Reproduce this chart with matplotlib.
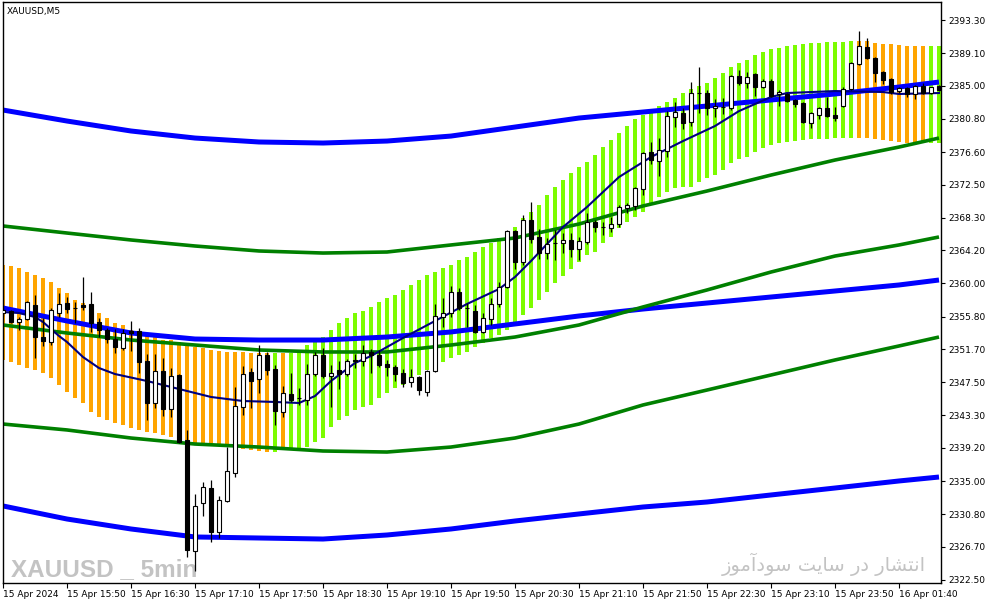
import numpy as np
import matplotlib.pyplot as plt

# XAUUSD M5 candles, bar 0 .. 117
opens = [2356.26, 2356.51, 2355.12, 2355.50, 2357.27, 2353.22, 2352.59, 2356.26, 2357.52, 2356.89,
         2357.27, 2357.40, 2355.12, 2354.11, 2352.97, 2351.83, 2353.98, 2353.98, 2350.19, 2344.88,
         2348.92, 2344.12, 2348.42, 2340.20, 2326.17, 2332.24, 2334.13, 2328.57, 2332.49, 2336.03,
         2344.37, 2348.80, 2347.91, 2350.95, 2349.18, 2343.74, 2346.02, 2345.51, 2345.26, 2348.54,
         2350.95, 2348.29, 2349.05, 2348.54, 2350.32, 2350.19, 2351.33, 2350.95, 2349.81, 2349.43,
         2348.67, 2347.53, 2348.16, 2346.27, 2348.92, 2355.75, 2356.26, 2358.91, 2356.89, 2356.51,
         2353.86, 2355.50, 2357.40, 2359.54, 2366.62, 2362.71, 2368.02, 2365.87, 2363.84, 2365.11,
         2365.11, 2365.49, 2364.35, 2365.23, 2367.76, 2367.13, 2367.00, 2367.51, 2369.53, 2369.78,
         2371.93, 2376.61, 2375.47, 2376.74, 2381.04, 2381.54, 2380.41, 2384.07, 2384.07, 2382.17,
         2382.30, 2382.17, 2386.22, 2385.34, 2386.48, 2384.83, 2385.59, 2383.95, 2383.95, 2383.19,
         2382.81, 2380.28, 2381.29, 2382.17, 2381.29, 2382.43, 2384.58, 2387.74, 2389.89, 2388.50,
         2386.73, 2385.84, 2384.32, 2384.70, 2383.95, 2384.96, 2384.07, 2384.96]
highs = [2356.89, 2356.64, 2355.75, 2357.77, 2358.53, 2355.63, 2356.89, 2358.79, 2358.28, 2357.65,
         2360.81, 2358.91, 2355.63, 2354.36, 2354.23, 2354.23, 2355.25, 2354.36, 2351.07, 2351.07,
         2350.57, 2349.30, 2348.54, 2341.47, 2333.37, 2334.89, 2335.14, 2333.12, 2339.32, 2346.90,
         2349.56, 2349.30, 2352.21, 2351.33, 2349.68, 2347.03, 2348.67, 2346.77, 2349.81, 2351.33,
         2351.83, 2349.68, 2350.19, 2350.44, 2351.07, 2352.21, 2351.70, 2351.58, 2350.32, 2349.68,
         2349.18, 2349.18, 2348.29, 2349.05, 2357.40, 2358.15, 2359.67, 2359.42, 2357.52, 2357.27,
         2356.26, 2358.15, 2360.18, 2366.75, 2366.75, 2368.65, 2370.29, 2366.88, 2365.74, 2366.75,
         2366.37, 2366.37, 2365.87, 2368.90, 2368.02, 2367.76, 2368.39, 2369.91, 2370.16, 2372.19,
         2376.61, 2377.88, 2378.38, 2381.79, 2382.93, 2382.17, 2385.46, 2387.36, 2384.45, 2383.31,
         2383.44, 2386.35, 2386.98, 2386.73, 2386.60, 2385.84, 2385.84, 2384.45, 2384.07, 2383.31,
         2382.93, 2381.67, 2382.30, 2383.57, 2382.30, 2384.83, 2387.99, 2391.91, 2391.03, 2388.62,
         2386.85, 2385.97, 2384.83, 2384.83, 2385.08, 2385.34, 2384.83, 2385.08]
lows = [2355.88, 2354.99, 2354.11, 2355.37, 2350.57, 2352.09, 2352.21, 2355.75, 2356.26, 2354.99,
        2356.64, 2353.86, 2353.22, 2352.46, 2351.20, 2351.58, 2351.45, 2348.67, 2342.73, 2344.25,
        2343.24, 2343.11, 2339.82, 2325.41, 2323.64, 2330.59, 2327.30, 2327.81, 2332.36, 2335.52,
        2343.36, 2344.25, 2346.14, 2348.42, 2342.10, 2343.11, 2345.01, 2344.63, 2344.63, 2348.29,
        2348.04, 2344.37, 2346.65, 2348.29, 2349.30, 2349.56, 2348.67, 2349.43, 2348.29, 2347.66,
        2346.90, 2346.90, 2345.89, 2345.76, 2348.80, 2354.49, 2355.75, 2356.64, 2354.49, 2353.73,
        2353.73, 2354.74, 2357.02, 2359.42, 2361.82, 2362.33, 2365.11, 2363.08, 2363.08, 2362.96,
        2363.84, 2363.34, 2362.96, 2364.98, 2366.50, 2366.12, 2366.50, 2367.13, 2368.90, 2369.28,
        2371.18, 2375.09, 2373.58, 2375.98, 2379.77, 2379.52, 2379.90, 2381.54, 2381.29, 2381.04,
        2381.42, 2381.92, 2385.08, 2384.70, 2383.69, 2384.70, 2383.57, 2382.43, 2382.93, 2382.30,
        2380.28, 2379.65, 2380.79, 2381.04, 2380.53, 2382.30, 2384.45, 2387.61, 2388.37, 2385.46,
        2385.21, 2383.95, 2384.07, 2383.57, 2383.31, 2383.95, 2383.95, 2384.32]
closes = [2356.64, 2355.12, 2355.50, 2357.65, 2353.22, 2352.72, 2356.64, 2357.40, 2356.76, 2356.85,
          2357.02, 2354.99, 2354.11, 2352.97, 2351.96, 2353.73, 2353.73, 2350.06, 2344.88, 2348.92,
          2344.12, 2348.29, 2339.95, 2326.29, 2331.86, 2334.26, 2328.57, 2332.62, 2336.28, 2344.50,
          2348.54, 2347.66, 2350.95, 2349.05, 2343.87, 2346.14, 2345.26, 2345.55, 2348.54, 2350.95,
          2348.29, 2348.67, 2348.54, 2350.19, 2350.19, 2351.20, 2350.95, 2349.68, 2349.43, 2348.54,
          2347.41, 2348.16, 2346.52, 2348.92, 2355.88, 2356.26, 2358.91, 2356.89, 2356.85, 2353.86,
          2355.63, 2357.40, 2359.54, 2366.62, 2362.71, 2368.02, 2365.61, 2363.84, 2364.98, 2365.07,
          2365.49, 2364.35, 2365.36, 2367.76, 2367.13, 2367.10, 2367.51, 2369.66, 2369.91, 2372.06,
          2376.49, 2375.60, 2376.87, 2381.16, 2381.67, 2380.28, 2384.07, 2384.03, 2382.17, 2382.43,
          2382.26, 2386.22, 2385.34, 2386.10, 2384.83, 2385.59, 2383.69, 2384.20, 2383.06, 2382.68,
          2380.41, 2381.54, 2382.17, 2381.16, 2380.91, 2384.58, 2387.86, 2390.01, 2388.50, 2386.60,
          2385.72, 2384.20, 2384.70, 2383.95, 2384.96, 2384.07, 2384.83, 2384.45]

# trend band (histogram stripes): upper / lower edge per bar, direction +1 up / -1 down
band_top = [2362.33, 2362.20, 2361.95, 2361.44, 2361.06, 2360.68, 2360.18, 2359.42, 2358.79, 2357.90,
            2357.52, 2357.02, 2356.26, 2355.63, 2354.99, 2354.74, 2354.11, 2353.86, 2353.48, 2353.22,
            2352.84, 2352.84, 2352.59, 2352.46, 2351.96, 2351.83, 2351.58, 2351.45, 2351.33, 2351.33,
            2351.33, 2351.20, 2351.20, 2351.20, 2351.20, 2351.20, 2351.20, 2351.33, 2352.21, 2352.59,
            2353.22, 2354.11, 2354.99, 2355.63, 2356.26, 2356.51, 2357.02, 2357.65, 2358.15, 2358.53,
            2359.17, 2359.80, 2360.43, 2361.06, 2361.44, 2361.95, 2362.33, 2362.96, 2363.34, 2363.97,
            2364.60, 2365.11, 2365.74, 2366.37, 2367.13, 2368.27, 2369.03, 2369.91, 2371.18, 2372.19,
            2373.07, 2373.96, 2374.71, 2375.35, 2376.23, 2377.24, 2378.13, 2379.02, 2379.90, 2380.79,
            2381.29, 2381.79, 2382.43, 2382.93, 2383.44, 2384.07, 2384.58, 2384.96, 2385.34, 2385.97,
            2386.60, 2387.36, 2387.86, 2388.24, 2388.88, 2389.26, 2389.63, 2389.76, 2390.01, 2390.14,
            2390.27, 2390.39, 2390.39, 2390.52, 2390.52, 2390.52, 2390.65, 2390.65, 2390.65, 2390.39,
            2390.27, 2390.27, 2390.14, 2390.01, 2390.01, 2390.01, 2390.01, 2390.01]
band_bot = [2350.32, 2350.06, 2349.68, 2349.30, 2349.05, 2348.67, 2348.04, 2347.16, 2346.27, 2345.51,
            2344.88, 2343.74, 2343.11, 2342.73, 2342.35, 2342.10, 2341.72, 2341.47, 2341.21, 2341.09,
            2340.83, 2340.58, 2340.45, 2340.20, 2339.82, 2339.69, 2339.57, 2339.44, 2339.31, 2339.19,
            2339.06, 2338.94, 2338.81, 2338.68, 2338.68, 2338.94, 2339.06, 2339.06, 2339.31, 2339.95,
            2340.45, 2341.84, 2342.73, 2343.24, 2343.99, 2344.37, 2344.63, 2345.51, 2346.14, 2346.77,
            2347.16, 2347.79, 2348.42, 2349.05, 2349.68, 2350.06, 2350.57, 2350.95, 2351.33, 2351.96,
            2352.46, 2353.10, 2353.48, 2354.11, 2354.99, 2356.00, 2356.89, 2357.90, 2358.91, 2360.05,
            2360.94, 2361.82, 2362.71, 2363.59, 2363.97, 2365.11, 2365.87, 2367.00, 2367.76, 2368.39,
            2369.03, 2370.16, 2370.92, 2371.56, 2372.06, 2372.19, 2372.19, 2372.82, 2373.33, 2373.71,
            2374.34, 2375.22, 2375.73, 2375.98, 2376.61, 2377.12, 2377.50, 2377.75, 2377.88, 2378.00,
            2378.13, 2378.26, 2378.26, 2378.26, 2378.38, 2378.38, 2378.38, 2378.38, 2378.38, 2378.26,
            2378.13, 2378.00, 2377.88, 2377.75, 2377.75, 2377.75, 2377.75, 2377.75]
band_dir = [-1] * 34 + [1] + [-1] + [1] * 71 + [-1] * 9 + [1] * 2

# smooth envelope lines, read at every 8th bar
line_bars = [0, 8, 16, 24, 32, 40, 48, 56, 64, 72, 80, 88, 96, 104, 112, 117]
blue_upper = [2381.92, 2380.53, 2379.27, 2378.38, 2377.88, 2377.75, 2378.00, 2378.63,
              2379.77, 2380.91, 2381.67, 2382.43, 2383.19, 2383.95, 2384.83, 2385.46]
blue_mid = [2356.89, 2355.25, 2353.73, 2352.97, 2352.84, 2352.84, 2353.22, 2353.86,
            2354.87, 2355.88, 2356.76, 2357.52, 2358.28, 2359.04, 2359.80, 2360.43]
blue_lower = [2331.86, 2330.21, 2328.95, 2327.94, 2327.81, 2327.68, 2328.19, 2328.95,
              2329.96, 2330.85, 2331.73, 2332.36, 2333.25, 2334.13, 2335.02, 2335.52]
green_1 = [2367.26, 2366.37, 2365.49, 2364.73, 2364.10, 2363.84, 2363.97, 2364.86,
           2365.74, 2367.51, 2369.79, 2371.68, 2373.70, 2375.60, 2377.24, 2378.38]
green_2 = [2354.74, 2353.73, 2352.84, 2352.21, 2351.58, 2351.33, 2351.33, 2352.21,
           2353.22, 2354.74, 2357.02, 2359.17, 2361.44, 2363.46, 2364.86, 2365.87]
green_3 = [2342.22, 2341.47, 2340.45, 2339.69, 2339.31, 2338.81, 2338.68, 2339.31,
           2340.45, 2342.22, 2344.63, 2346.52, 2348.42, 2350.32, 2352.09, 2353.22]

# moving average (thin navy line)
ma_bars = [0, 2, 4, 5, 7, 8, 10, 12, 14, 18, 22, 26, 30, 34, 37, 39, 41, 44, 46, 50, 54, 58,
           62, 64, 66, 68, 70, 73, 77, 81, 85, 89, 92, 94, 96, 98, 104, 110, 112, 117]
ma_vals = [2356.38, 2356.26, 2355.75, 2355.12, 2353.35, 2352.59, 2350.69, 2349.30, 2348.54, 2347.66,
           2346.65, 2345.64, 2345.13, 2345.01, 2344.88, 2345.76, 2347.66, 2349.94, 2350.82, 2353.10,
           2355.25, 2357.40, 2359.29, 2360.81, 2362.83, 2364.98, 2367.13, 2369.66, 2373.45, 2375.98,
           2378.00, 2379.90, 2381.79, 2382.68, 2383.57, 2384.07, 2384.32, 2384.20, 2383.95, 2384.07]

price_ticks = [2393.30, 2389.10, 2385.00, 2380.80, 2376.60, 2372.50, 2368.30, 2364.20, 2360.00,
               2355.80, 2351.70, 2347.50, 2343.30, 2339.20, 2335.00, 2330.80, 2326.70, 2322.50]
time_tick_bars = [0, 8, 16, 24, 32, 40, 48, 56, 64, 72, 80, 88, 96, 104, 112]
time_labels = ["15 Apr 2024", "15 Apr 15:50", "15 Apr 16:30", "15 Apr 17:10", "15 Apr 17:50",
               "15 Apr 18:30", "15 Apr 19:10", "15 Apr 19:50", "15 Apr 20:30", "15 Apr 21:10",
               "15 Apr 21:50", "15 Apr 22:30", "15 Apr 23:10", "15 Apr 23:50", "16 Apr 01:40"]

W, H = 987, 605
fig = plt.figure(figsize=(W / 100, H / 100), dpi=100)
fig.patch.set_facecolor('white')
ax = fig.add_axes([3 / W, (H - 583) / H, 938 / W, 581 / H])

x = np.arange(len(opens))
o = np.array(opens); c = np.array(closes)
hi = np.array(highs); lo = np.array(lows)

# trend band stripes
bt = np.array(band_top); bb = np.array(band_bot)
stripe_cols = ['#7CFC00' if d > 0 else '#FFA500' for d in band_dir]
ax.bar(x, bt - bb, bottom=bb, width=0.45, color=stripe_cols, linewidth=0, zorder=1)

# envelope lines
ax.plot(line_bars, blue_upper, color='#0000FF', lw=3.6, zorder=2, solid_capstyle='butt')
ax.plot(line_bars, blue_mid, color='#0000FF', lw=3.6, zorder=2, solid_capstyle='butt')
ax.plot(line_bars, blue_lower, color='#0000FF', lw=3.6, zorder=2, solid_capstyle='butt')
for g in (green_1, green_2, green_3):
    ax.plot(line_bars, g, color='#008000', lw=2.6, zorder=2, solid_capstyle='butt')
ax.plot(ma_bars, ma_vals, color='#000080', lw=1.5, zorder=3)

# candles
ax.vlines(x, lo, hi, color='black', lw=0.9, zorder=4)
up = c >= o
body_lo = np.minimum(o, c)
body_h = np.abs(c - o)
ax.bar(x[up], body_h[up], bottom=body_lo[up], width=0.55, facecolor='white',
       edgecolor='black', linewidth=0.8, zorder=5)
ax.bar(x[~up], body_h[~up], bottom=body_lo[~up], width=0.55, facecolor='black',
       edgecolor='black', linewidth=0.8, zorder=5)

ax.set_xlim(0, 938 / 8)
ax.set_ylim(2322.12, 2395.58)

ax.yaxis.tick_right()
ax.set_yticks(price_ticks)
ax.set_yticklabels(['%.2f' % v for v in price_ticks])
ax.set_xticks(time_tick_bars)
ax.set_xticklabels(time_labels)
for lbl in ax.get_xticklabels():
    lbl.set_horizontalalignment('left')
ax.tick_params(axis='y', direction='out', length=3, width=0.8, pad=2, labelsize=6.5, colors='black')
ax.tick_params(axis='x', direction='out', length=3.5, width=0.8, pad=1.5, labelsize=6.5, colors='black')
for s in ax.spines.values():
    s.set_linewidth(1.0)
    s.set_color('black')

ax.text(0.004, 0.992, "XAUUSD,M5", transform=ax.transAxes, ha='left', va='top',
        fontsize=6.5, color='black')

# watermarks
ax.text(8 / 938, (583 - 576) / 581, "XAUUSD _ 5min", transform=ax.transAxes,
        ha='left', va='baseline', fontsize=17.5, fontweight='bold',
        color='#C3C3C3', family=['Liberation Sans'], zorder=0)
# "انتشار در سایت سودآموز" written in shaped (presentation) forms, visual order
fa_text = "\ufeaf\ufeee\ufee3\ufe81\ufea9\ufeee\ufeb3 \ufe96\ufef3\ufe8e\ufeb3 \ufead\ufea9 \ufead\ufe8e\ufeb8\ufe98\ufee7\ufe8d"
fig.text(926 / W, 1 - 564 / H, fa_text, ha='right', va='center', fontsize=14,
         color='#C3C3C3', family=['DejaVu Sans'])

fig.savefig('out.png', dpi=100)
